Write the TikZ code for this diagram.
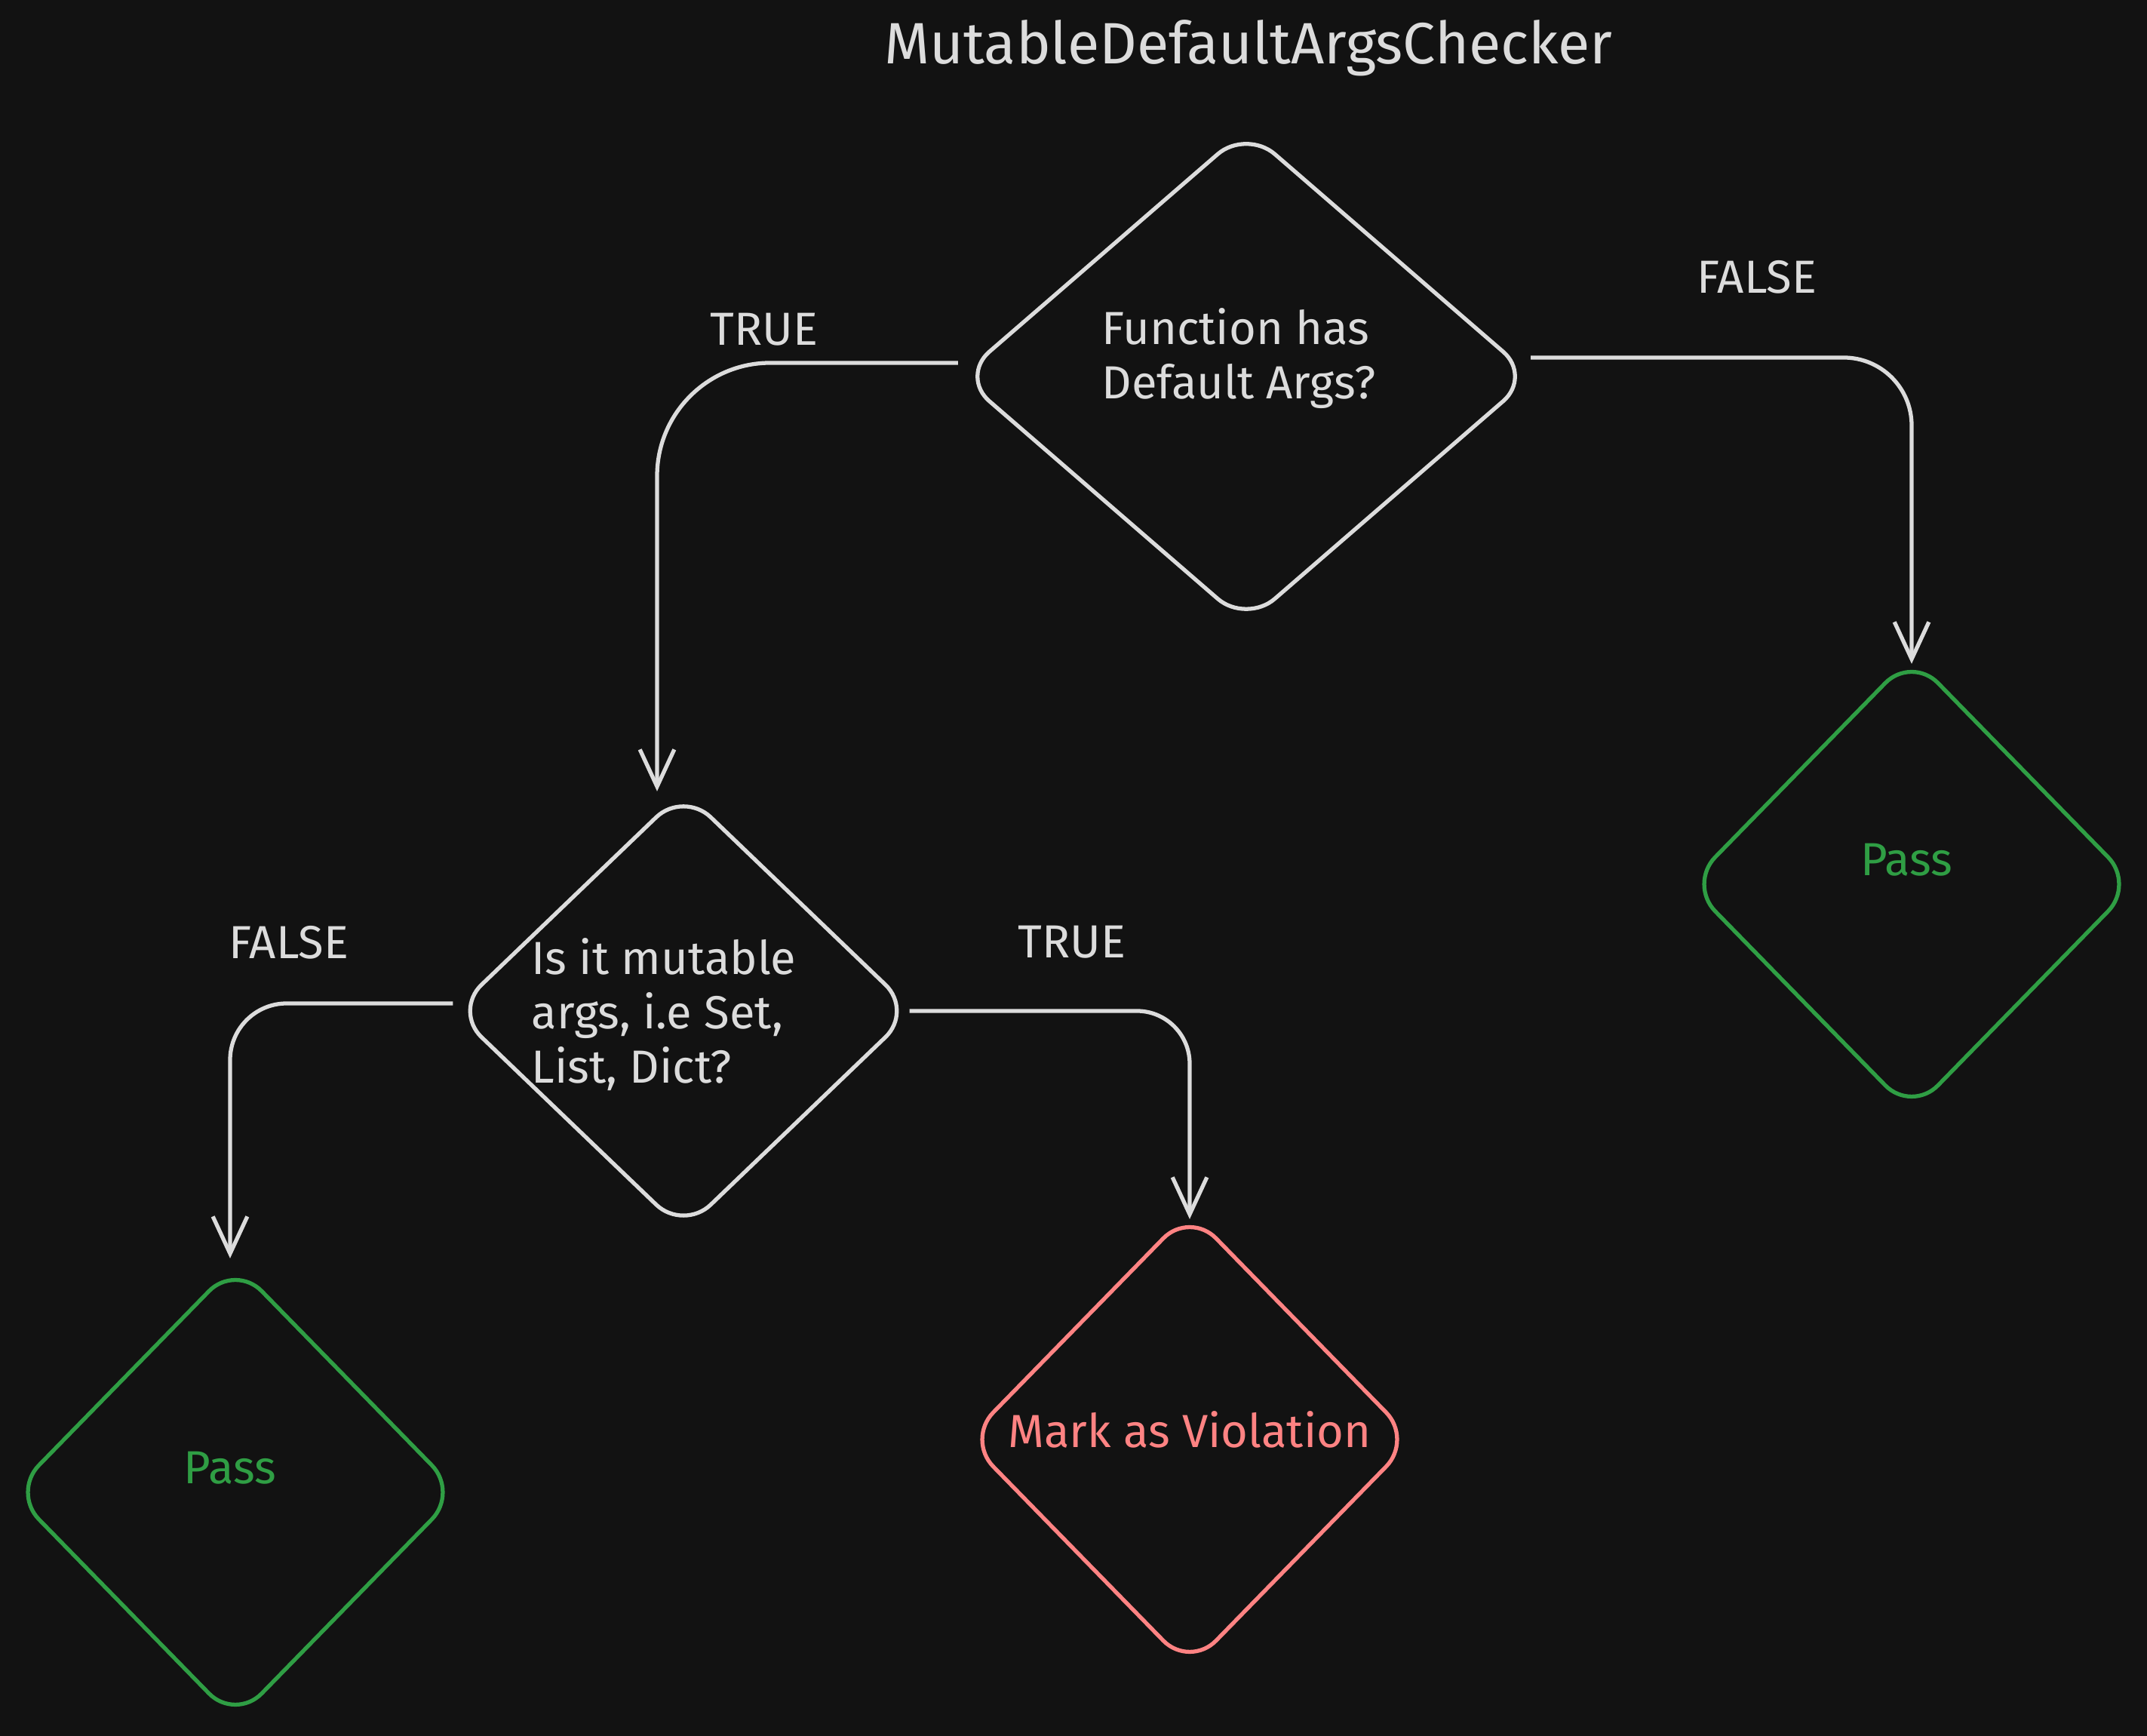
\documentclass[tikz,border=0pt]{standalone}
\usepackage{fontspec}
\setmainfont{Fira Sans}
\usetikzlibrary{shapes.geometric,arrows.meta}
\definecolor{bgdark}{RGB}{18,18,18}
\definecolor{ink}{RGB}{220,220,220}
\definecolor{passgreen}{RGB}{47,158,68}
\definecolor{violred}{RGB}{255,131,131}

\begin{document}
\begin{tikzpicture}[
  decision/.style={diamond, draw=ink, line width=1.5pt, rounded corners=0.5cm, inner sep=0pt},
  outcome/.style={diamond, line width=1.5pt, rounded corners=0.5cm, inner sep=0pt, minimum width=5.93cm, minimum height=6.07cm},
  boxtext/.style={font=\fontsize{17.5}{20.5}\selectfont, align=left, inner sep=0pt},
  flow/.style={draw=ink, line width=1.5pt, -{Straight Barb[length=14pt,width=13pt]}},
  edgelabel/.style={font=\fontsize{17.5}{20}\selectfont, text=ink}
]
  \fill[bgdark] (0,0) rectangle (28.46,23.01);
  \useasboundingbox (0,0) rectangle (28.46,23.01);

  \node[font=\fontsize{22}{26}\selectfont, text=ink] (title) at (16.55,22.37) {MutableDefaultArgsChecker};

  % decisions
  \node[decision, minimum width=7.59cm, minimum height=6.57cm] (hasdef) at (16.52,18.02) {};
  \node[boxtext, text=ink] (hasdeftxt) at ([xshift=-0.1cm,yshift=0.24cm]hasdef.center) {Function has\\Default Args?};
  \node[decision, minimum width=6.10cm, minimum height=5.85cm] (mutable) at (9.06,9.61) {};
  \node[boxtext, text=ink] (mutabletxt) at ([xshift=-0.26cm,yshift=-0.05cm]mutable.center) {Is it mutable\\args, i.e Set,\\List, Dict?};

  % outcomes
  \node[outcome, draw=passgreen] (passright) at (25.34,11.29) {};
  \node[boxtext, text=passgreen] (passrighttxt) at ([xshift=-0.07cm,yshift=0.32cm]passright.center) {Pass};
  \node[outcome, draw=passgreen] (passleft) at (3.12,3.23) {};
  \node[boxtext, text=passgreen] (passlefttxt) at ([xshift=-0.07cm,yshift=0.32cm]passleft.center) {Pass};
  \node[outcome, draw=violred] (violation) at (15.77,3.93) {};
  \node[boxtext, text=violred] (violationtxt) at ([yshift=0.13cm]violation.center) {Mark as Violation};

  % connectors
  \draw[flow, rounded corners=1.5cm] ([xshift=0.0cm,yshift=0.18cm]hasdef.west) -| ([xshift=-0.35cm,yshift=-0.04cm]mutable.north);
  \draw[flow, rounded corners=0.9cm] ([xshift=-0.05cm,yshift=0.25cm]hasdef.east) -| ([yshift=-0.14cm]passright.north);
  \draw[flow, rounded corners=0.75cm] ([xshift=0.02cm,yshift=0.1cm]mutable.west) -| ([xshift=-0.07cm,yshift=0.04cm]passleft.north);
  \draw[flow, rounded corners=0.7cm] ([xshift=-0.08cm]mutable.east) -| ([yshift=-0.14cm]violation.north);

  \node[edgelabel] (lbltrue1) at (10.13,18.64) {TRUE};
  \node[edgelabel] (lblfalse1) at (23.29,19.34) {FALSE};
  \node[edgelabel] (lblfalse2) at (3.83,10.52) {FALSE};
  \node[edgelabel] (lbltrue2) at (14.21,10.52) {TRUE};
\end{tikzpicture}
\end{document}
